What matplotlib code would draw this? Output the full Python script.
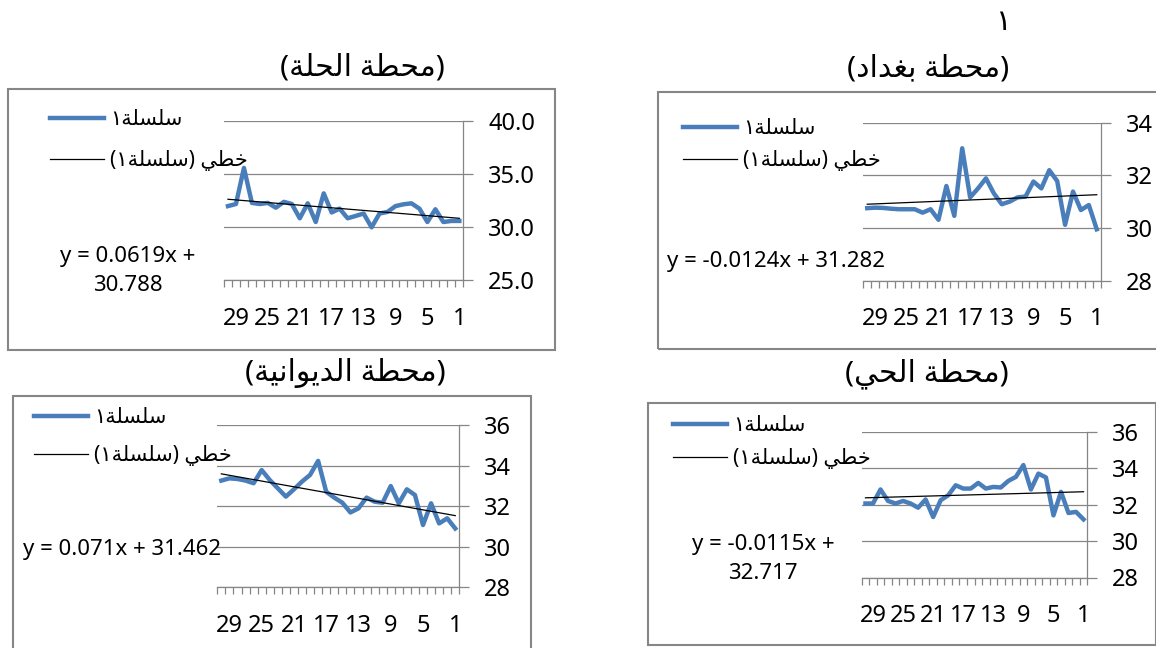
import matplotlib.pyplot as plt
import matplotlib.patches as patches
import numpy as np

# days 1..30 (drawn right to left, like the Excel charts)
days = np.arange(1, 31)
day_labels = [1, 5, 9, 13, 17, 21, 25, 29]

hilla = [30.6, 30.6, 30.5, 31.7, 30.5, 31.76, 32.26, 32.17, 32.0, 31.45,
         31.3, 30.0, 31.3, 31.07, 30.85, 31.76, 31.4, 33.2, 30.5, 32.26,
         30.85, 32.2, 32.4, 31.85, 32.3, 32.2, 32.3, 35.6, 32.2, 32.0]
baghdad = [29.96, 30.88, 30.69, 31.39, 30.13, 31.79, 32.2, 31.51, 31.77, 31.2,
           31.17, 31.01, 30.91, 31.32, 31.89, 31.51, 31.17, 33.03, 30.47, 31.6,
           30.32, 30.72, 30.59, 30.72, 30.72, 30.72, 30.74, 30.77, 30.78, 30.76]
diwaniya = [30.9, 31.4, 31.15, 32.14, 31.07, 32.55, 32.83, 32.14, 32.99, 32.17,
            32.22, 32.42, 31.89, 31.69, 32.17, 32.42, 32.71, 34.23, 33.54, 33.21,
            32.83, 32.47, 32.88, 33.29, 33.78, 33.13, 33.26, 33.34, 33.37, 33.26]
hay = [31.19, 31.6, 31.54, 32.7, 31.41, 33.49, 33.7, 32.83, 34.17, 33.52,
       33.3, 32.94, 32.97, 32.88, 33.19, 32.88, 32.88, 33.06, 32.51, 32.24,
       31.32, 32.28, 31.83, 32.06, 32.2, 32.06, 32.2, 32.83, 32.06, 32.06]

titles = ['(محطة الحلة)', '(محطة بغداد)', '(محطة الديوانية)', '(محطة الحي)']
series_name = 'سلسلة١'
trend_name = 'خطي (سلسلة١)'
slopes = [0.0619, -0.0124, 0.071, -0.0115]
intercepts = [30.788, 31.282, 31.462, 32.717]
eq_texts = ['y = 0.0619x +\n30.788', 'y = -0.0124x + 31.282',
            'y = 0.071x + 31.462', 'y = -0.0115x +\n32.717']
y_ranges = [(25, 40, 5), (28, 34, 2), (28, 36, 2), (28, 36, 2)]
y_fmt = ['%.1f', '%d', '%d', '%d']

# --- tiny arabic shaper (matplotlib does no shaping / RTL) ---
FORMS = {
    'ا': (0xFE8D, 0xFE8E, None, None),
    'ب': (0xFE8F, 0xFE90, 0xFE91, 0xFE92),
    'ة': (0xFE93, 0xFE94, None, None),
    'ح': (0xFEA1, 0xFEA2, 0xFEA3, 0xFEA4),
    'خ': (0xFEA5, 0xFEA6, 0xFEA7, 0xFEA8),
    'د': (0xFEA9, 0xFEAA, None, None),
    'س': (0xFEB1, 0xFEB2, 0xFEB3, 0xFEB4),
    'ط': (0xFEC1, 0xFEC2, 0xFEC3, 0xFEC4),
    'غ': (0xFECD, 0xFECE, 0xFECF, 0xFED0),
    'ل': (0xFEDD, 0xFEDE, 0xFEDF, 0xFEE0),
    'م': (0xFEE1, 0xFEE2, 0xFEE3, 0xFEE4),
    'ن': (0xFEE5, 0xFEE6, 0xFEE7, 0xFEE8),
    'و': (0xFEED, 0xFEEE, None, None),
    'ي': (0xFEF1, 0xFEF2, 0xFEF3, 0xFEF4),
}


def shape(text):
    out = []
    for i, ch in enumerate(text):
        if ch not in FORMS:
            out.append(ch)
            continue
        f = FORMS[ch]
        prev = text[i - 1] if i > 0 else ''
        nxt = text[i + 1] if i + 1 < len(text) else ''
        jp = prev in FORMS and FORMS[prev][2] is not None
        jn = f[2] is not None and nxt in FORMS
        if jp and jn:
            code = f[3]
        elif jp:
            code = f[1]
        elif jn:
            code = f[2]
        else:
            code = f[0]
        out.append(chr(code))
    vis = ''.join(reversed(out))
    return vis.translate(str.maketrans('()', ')('))


plt.rcParams['font.family'] = ['Noto Sans', 'DejaVu Sans']

W, H = 1156, 648
fig = plt.figure(figsize=(W / 100, H / 100), dpi=100)


def fx(x):
    return x / W


def fy(y):
    return 1 - y / H


# pixel layout (top-left origin)
axes_px = [(224, 121.3, 463.3, 280.3), (863.3, 122.7, 1100.7, 281),
           (217.3, 425, 459.3, 587.3), (861.7, 431.7, 1087.3, 577.5)]
frames_px = [(8, 89, 555, 350), (658, 92, 1165, 349),
             (13, 396, 531, 660), (648, 403, 1155.5, 645)]
title_pos = [(362, 68), (928, 69), (345, 373), (927, 374)]
legend_pos = [(50, 109), (683, 118), (34, 407), (673, 415)]
legend_gap = [0.98, 0.52, 0.84, 0.58]
eq_pos = [(128, 271), (776, 262), (122, 549), (763, 559)]

grey = '#868686'
blue = '#4a7ebb'
data = [hilla, baghdad, diwaniya, hay]

for k in range(4):
    x0, y0, x1, y1 = axes_px[k]
    ax = fig.add_axes([fx(x0), fy(y1), (x1 - x0) / W, (y1 - y0) / H])
    ax.plot(days, data[k], color=blue, lw=3.2, label=shape(series_name))
    ax.plot(days, slopes[k] * days + intercepts[k], color='black', lw=0.9,
            label=shape(trend_name))
    lo, hi, st = y_ranges[k]
    ax.set_xlim(30.5, 0.5)
    ax.set_ylim(lo, hi)
    ax.set_yticks(np.arange(lo, hi + st / 2, st))
    ax.set_yticklabels([y_fmt[k] % v for v in np.arange(lo, hi + st / 2, st)])
    ax.yaxis.tick_right()
    ax.grid(axis='y', color=grey, lw=0.9)
    ax.set_axisbelow(True)
    ax.set_xticks(day_labels)
    ax.set_xticks(np.arange(0.5, 31, 1), minor=True)
    ax.tick_params(axis='x', which='major', length=0, pad=19, labelsize=17)
    ax.tick_params(axis='x', which='minor', length=5, color=grey, width=0.9)
    ax.tick_params(axis='y', length=7, color=grey, width=0.9, pad=11, labelsize=17)
    for s in ['left', 'top']:
        ax.spines[s].set_visible(False)
    for s in ['right', 'bottom']:
        ax.spines[s].set_color(grey)
        ax.spines[s].set_linewidth(0.9)

    lx, ly = legend_pos[k]
    ax.legend(loc='upper left', bbox_to_anchor=(fx(lx), fy(ly)),
              bbox_transform=fig.transFigure, frameon=False, fontsize=15,
              handlelength=2.6, handletextpad=0.3, labelspacing=legend_gap[k],
              borderpad=0, borderaxespad=0)

    tx, ty = title_pos[k]
    fig.text(fx(tx), fy(ty), shape(titles[k]), ha='center', va='center', fontsize=21.5)
    ex, ey = eq_pos[k]
    fig.text(fx(ex), fy(ey), eq_texts[k], ha='center', va='center',
             fontsize=16, linespacing=1.45)

    a, b, c, d = frames_px[k]
    fig.add_artist(patches.Rectangle((fx(a), fy(d)), (c - a) / W, (d - b) / H,
                                     transform=fig.transFigure, fill=False,
                                     edgecolor=grey, lw=1.5))

fig.text(fx(1003), fy(22), '١', ha='center', va='center', fontsize=21)

fig.savefig('out.png', dpi=100)
